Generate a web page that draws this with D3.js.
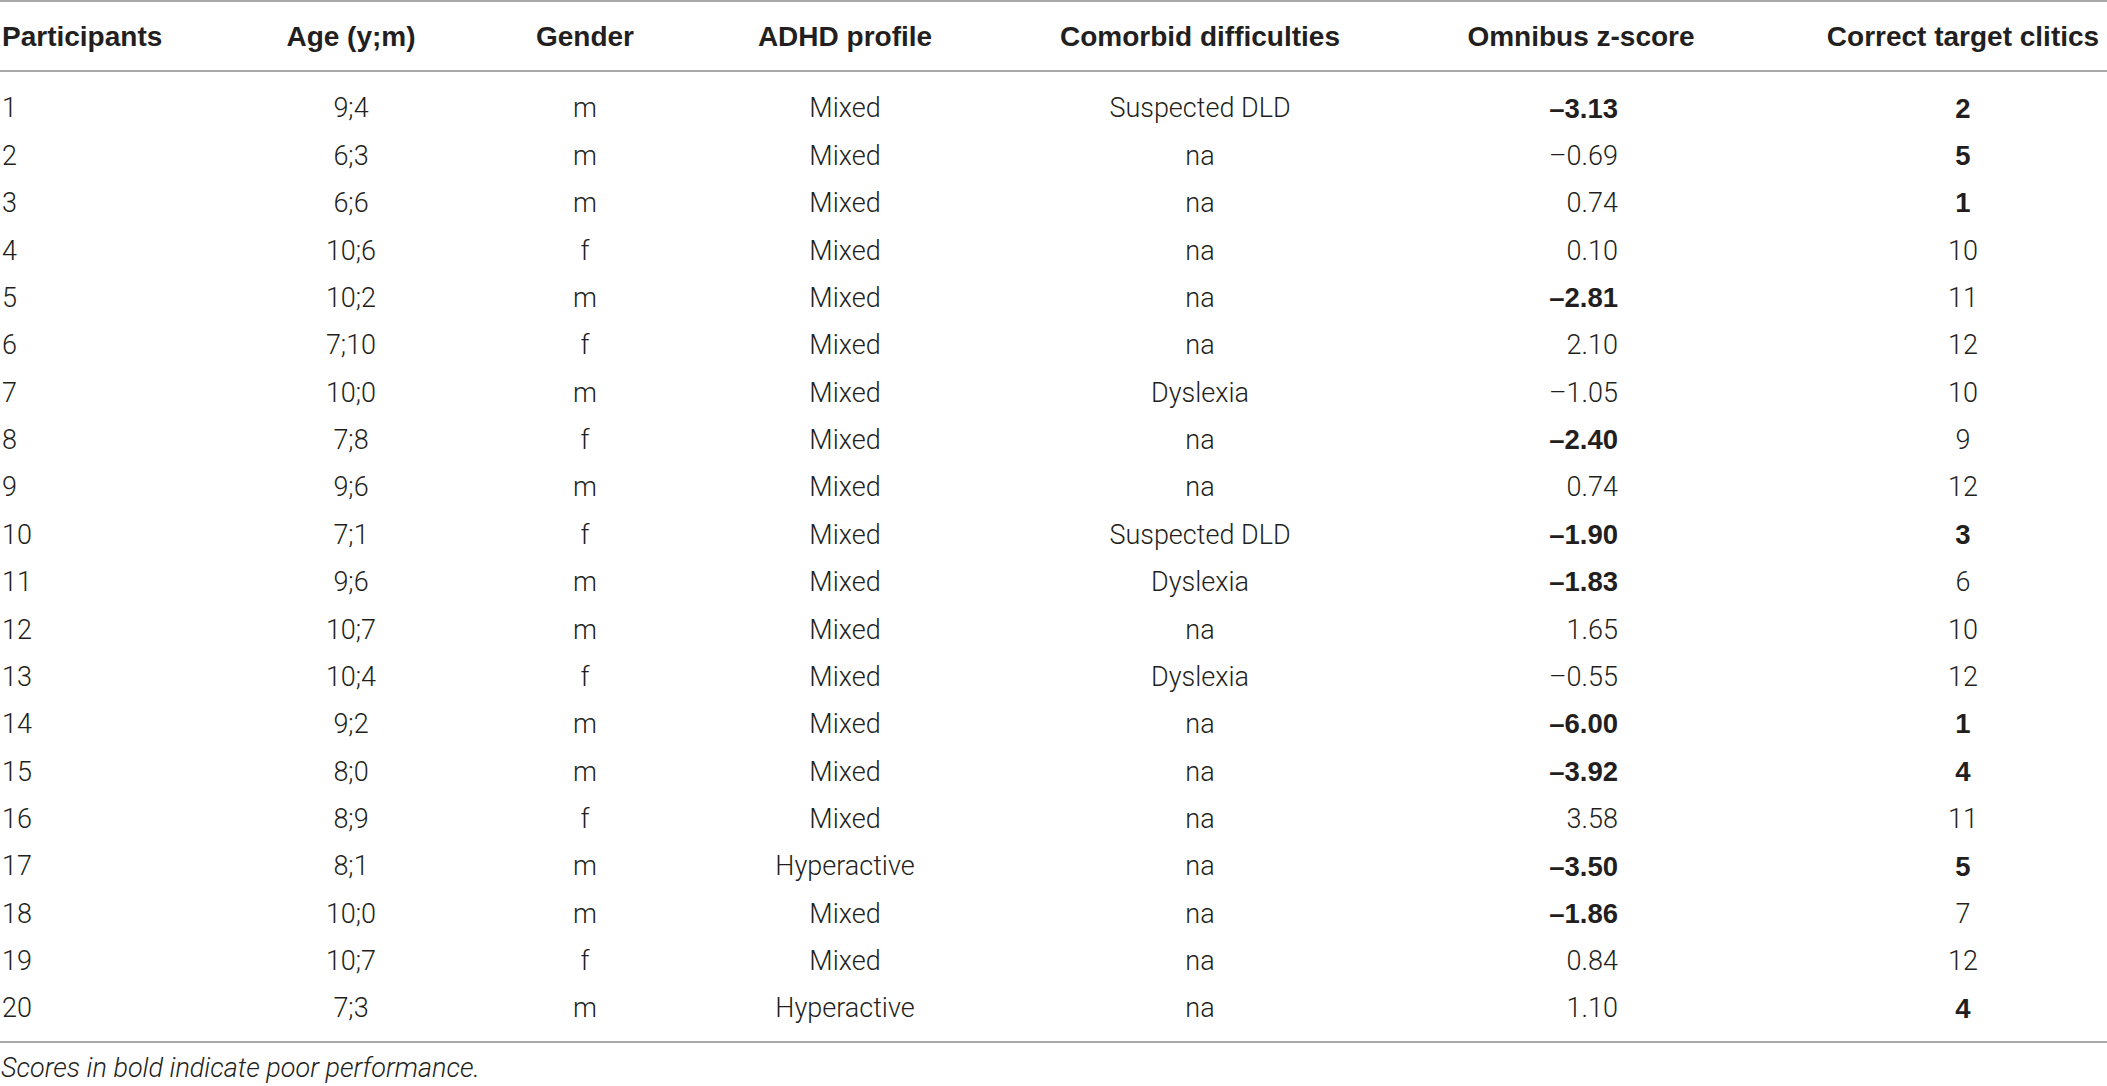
<!DOCTYPE html>
<html>
<head>
<meta charset="utf-8">
<script src="https://cdn.jsdelivr.net/npm/d3@7"></script>
<style>
  html, body { margin: 0; padding: 0; background: #fff; }
  svg { display: block; }
</style>
</head>
<body>
<svg id="table"></svg>
<script>
let width = 2107
let height = 1086

// table data
let headers = ['Participants', 'Age (y;m)', 'Gender', 'ADHD profile', 'Comorbid difficulties', 'Omnibus z-score', 'Correct target clitics']
let participants = d3.range(1, 21)
let ages = ['9;4', '6;3', '6;6', '10;6', '10;2', '7;10', '10;0', '7;8', '9;6', '7;1', '9;6', '10;7', '10;4', '9;2', '8;0', '8;9', '8;1', '10;0', '10;7', '7;3']
let genders = ['m', 'm', 'm', 'f', 'm', 'f', 'm', 'f', 'm', 'f', 'm', 'm', 'f', 'm', 'm', 'f', 'm', 'm', 'f', 'm']
let profiles = ['Mixed', 'Mixed', 'Mixed', 'Mixed', 'Mixed', 'Mixed', 'Mixed', 'Mixed', 'Mixed', 'Mixed', 'Mixed', 'Mixed', 'Mixed', 'Mixed', 'Mixed', 'Mixed', 'Hyperactive', 'Mixed', 'Mixed', 'Hyperactive']
let comorbid = ['Suspected DLD', 'na', 'na', 'na', 'na', 'na', 'Dyslexia', 'na', 'na', 'Suspected DLD', 'Dyslexia', 'na', 'Dyslexia', 'na', 'na', 'na', 'na', 'na', 'na', 'na']
let zscores = [-3.13, -0.69, 0.74, 0.10, -2.81, 2.10, -1.05, -2.40, 0.74, -1.90, -1.83, 1.65, -0.55, -6.00, -3.92, 3.58, -3.50, -1.86, 0.84, 1.10]
let zscoreBold = [1, 0, 0, 0, 1, 0, 0, 1, 0, 1, 1, 0, 0, 1, 1, 0, 1, 1, 0, 0]
let clitics = [2, 5, 1, 10, 11, 12, 10, 9, 12, 3, 6, 10, 12, 1, 4, 11, 5, 7, 12, 4]
let cliticsBold = [1, 1, 1, 0, 0, 0, 0, 0, 0, 1, 0, 0, 0, 1, 1, 0, 1, 0, 0, 1]
let footnote = 'Scores in bold indicate poor performance.'

// column layout: anchor x and text alignment
let columns = [
	{ x: 2, anchor: 'start' },
	{ x: 351, anchor: 'middle' },
	{ x: 585, anchor: 'middle' },
	{ x: 845, anchor: 'middle' },
	{ x: 1200, anchor: 'middle' },
	{ x: 1618, anchor: 'end', hx: 1581 },
	{ x: 1963, anchor: 'middle' }
]

let fmtZ = d => (d < 0 ? '\u2013' : '') + d3.format('.2f')(Math.abs(d))

let rows = participants.map((p, i) => ({
	cells: [
		{ text: String(p) },
		{ text: ages[i] },
		{ text: genders[i] },
		{ text: profiles[i] },
		{ text: comorbid[i] },
		{ text: fmtZ(zscores[i]), bold: zscoreBold[i] },
		{ text: String(clitics[i]), bold: cliticsBold[i] }
	]
}))

let y = d3.scalePoint()
	.domain(participants)
	.range([108, 1008])

let svg = d3.select('#table')
	.attr('width', width)
	.attr('height', height)
	.attr('viewBox', `0 0 ${width} ${height}`)

let textColor = '#231f20'
let ruleColor = '#a7a7a7'

// rules
svg.append('g')
	.attr('stroke', ruleColor)
	.attr('stroke-width', 2)
	.selectAll('line')
	.data([1, 71, 1042])
	.join('line')
	.attr('x1', 0)
	.attr('x2', width)
	.attr('y1', d => d)
	.attr('y2', d => d)

// header
svg.append('g')
	.style('font', 'bold 28px "Liberation Sans", Arial, sans-serif')
	.attr('fill', textColor)
	.selectAll('text')
	.data(headers)
	.join('text')
	.attr('x', (d, i) => columns[i].hx !== undefined ? columns[i].hx : columns[i].x)
	.attr('y', 36)
	.attr('dy', '0.35em')
	.attr('text-anchor', (d, i) => columns[i].hx !== undefined ? 'middle' : columns[i].anchor)
	.text(d => d)

// body rows
let row = svg.append('g')
	.attr('fill', textColor)
	.selectAll('g')
	.data(rows)
	.join('g')
	.attr('transform', (d, i) => `translate(0,${y(participants[i])})`)

row.selectAll('text')
	.data(d => d.cells)
	.join('text')
	.attr('x', (d, i) => columns[i].x)
	.attr('dy', '0.35em')
	.attr('text-anchor', (d, i) => columns[i].anchor)
	.style('font-family', d => d.bold ? '"Liberation Sans", Arial, sans-serif' : 'Roboto, "Liberation Sans", sans-serif')
	.style('font-weight', d => d.bold ? 'bold' : 300)
	.style('font-size', d => d.bold ? '27.5px' : '27px')
	.text(d => d.text)

// footnote
svg.append('text')
	.attr('x', 1)
	.attr('y', 1068)
	.attr('dy', '0.35em')
	.attr('fill', textColor)
	.style('font', 'italic 300 27px Roboto, "Liberation Sans", sans-serif')
	.text(footnote)
</script>
</body>
</html>
